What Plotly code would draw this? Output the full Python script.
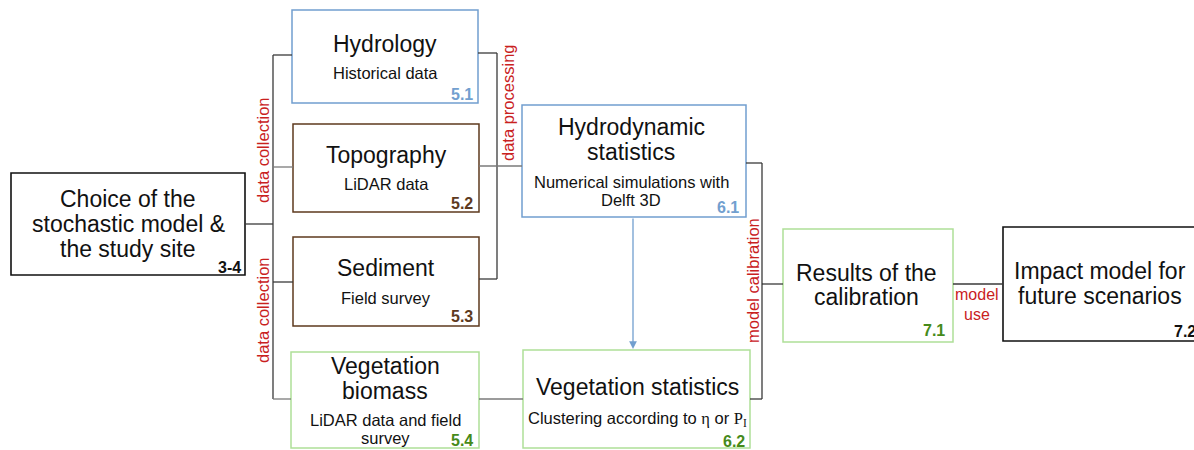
import plotly.graph_objects as go

# ---- content ----
box_ids = ["choice", "hydro", "topo", "sed", "vegb", "hyds", "vegs", "res", "imp"]
box_titles = [
    ["Choice of the", "stochastic model &", "the study site"],
    ["Hydrology"],
    ["Topography"],
    ["Sediment"],
    ["Vegetation", "biomass"],
    ["Hydrodynamic", "statistics"],
    ["Vegetation statistics"],
    ["Results of the", "calibration"],
    ["Impact model for", "future scenarios"],
]
box_subtitles = [
    [],
    ["Historical data"],
    ["LiDAR data"],
    ["Field survey"],
    ["LiDAR data and field", "survey"],
    ["Numerical simulations with", "Delft 3D"],
    ["Clustering according to <span style=\"font-family:'Liberation Serif'\">η</span> or <span style=\"font-family:'Liberation Serif'\">P<sub>I</sub></span>"],
    [],
    [],
]
box_numbers = ["3-4", "5.1", "5.2", "5.3", "5.4", "6.1", "6.2", "7.1", "7.2"]
link_labels = ["data collection", "data collection", "data processing", "model calibration"]
use_label = ["model", "use"]

# ---- layout / styles ----
BLACK = "#111111"
BLUE = "#729fcf"
BROWN = "#5e3a1e"
GREEN_B = "#afdf98"
GREEN_T = "#468a1a"
RED = "#c9211e"
LINE = "#3a3a3a"
GREYL = "#7a7a7a"
FONT = "Liberation Sans, Arial, sans-serif"

geom = {  # x0, y0, x1, y1
    "choice": (11, 173, 245, 275),
    "hydro": (292, 10, 478, 103),
    "topo": (293, 124, 479, 212),
    "sed": (293, 237, 479, 326),
    "vegb": (291, 352, 479, 448),
    "hyds": (522, 105, 746, 217),
    "vegs": (523, 350, 750, 448),
    "res": (783, 229, 953, 342),
    "imp": (1003, 227, 1210, 341),
}
border = {"choice": BLACK, "hydro": BLUE, "topo": BROWN, "sed": BROWN, "vegb": GREEN_B,
          "hyds": BLUE, "vegs": GREEN_B, "res": GREEN_B, "imp": BLACK}
numcol = {"choice": BLACK, "hydro": BLUE, "topo": BROWN, "sed": BROWN, "vegb": GREEN_T,
          "hyds": BLUE, "vegs": GREEN_T, "res": GREEN_T, "imp": BLACK}
title_y = {"choice": [199, 224, 249], "hydro": [44], "topo": [155], "sed": [268],
           "vegb": [366, 391], "hyds": [127, 152], "vegs": [387], "res": [273, 297],
           "imp": [271, 296]}
sub_y = {"hydro": [73], "topo": [184], "sed": [298], "vegb": [420, 438],
         "hyds": [182, 200], "vegs": [419]}
cx = {"choice": 128, "hydro": 385, "topo": 386, "sed": 386, "vegb": 385, "hyds": 631,
      "vegs": 637, "res": 866, "imp": 1100}
# (x, y, anchor)
num_pos = {"choice": (243, 267, "right"), "hydro": (475, 94, "right"),
           "topo": (475, 203, "right"), "sed": (475, 316, "right"),
           "vegb": (475, 440, "right"), "hyds": (741, 207, "right"),
           "vegs": (747, 441, "right"), "res": (947, 330, "right"),
           "imp": (1172, 331, "left")}

fig = go.Figure()
fig.add_trace(go.Scatter(x=[0, 1194], y=[0, 450], mode="markers",
                         marker=dict(opacity=0), hoverinfo="skip", showlegend=False))

shapes = []
for b in box_ids:
    x0, y0, x1, y1 = geom[b]
    w = 1.6 if border[b] == BLACK else 1.5
    shapes.append(dict(type="rect", xref="x", yref="y", x0=x0, y0=y0, x1=x1, y1=y1,
                       line=dict(color=border[b], width=w), fillcolor="rgba(0,0,0,0)"))

segments = [  # (x0,y0,x1,y1,color)
    (245, 224, 273, 224, LINE),
    (273, 55, 273, 399, LINE),
    (273, 55, 292, 55, LINE),
    (273, 167, 293, 167, GREYL),
    (273, 282, 293, 282, LINE),
    (273, 399, 291, 399, GREYL),
    (478, 53, 497, 53, LINE),
    (497, 53, 497, 279, LINE),
    (479, 279, 497, 279, LINE),
    (479, 166, 522, 166, GREYL),
    (479, 399, 523, 399, GREYL),
    (746, 163, 762, 163, LINE),
    (762, 163, 762, 399, LINE),
    (750, 399, 762, 399, LINE),
    (762, 284, 783, 284, LINE),
    (953, 284, 1003, 284, LINE),
]
for x0, y0, x1, y1, c in segments:
    shapes.append(dict(type="line", xref="x", yref="y", x0=x0, y0=y0, x1=x1, y1=y1,
                       line=dict(color=c, width=1.3)))

ann = []
for i, b in enumerate(box_ids):
    for t, y in zip(box_titles[i], title_y[b]):
        ann.append(dict(x=cx[b], y=y, text=t, showarrow=False, xanchor="center",
                        yanchor="middle", font=dict(family=FONT, size=23, color="#111")))
    for t, y in zip(box_subtitles[i], sub_y.get(b, [])):
        ann.append(dict(x=cx[b], y=y, text=t, showarrow=False, xanchor="center",
                        yanchor="middle", font=dict(family=FONT, size=16.5, color="#111")))
    nx, ny, anc = num_pos[b]
    ann.append(dict(x=nx, y=ny, text="<b>%s</b>" % box_numbers[i], showarrow=False,
                    xanchor=anc, yanchor="middle",
                    font=dict(family=FONT, size=16, color=numcol[b])))

vert_pos = [(263, 150), (263, 310), (508, 103), (753, 281)]
for t, (x, y) in zip(link_labels, vert_pos):
    ann.append(dict(x=x, y=y, text=t, textangle=-90, showarrow=False, xanchor="center",
                    yanchor="middle", font=dict(family=FONT, size=16.5, color=RED)))
for t, y in zip(use_label, [294, 314]):
    ann.append(dict(x=977, y=y, text=t, showarrow=False, xanchor="center", yanchor="middle",
                    font=dict(family=FONT, size=16, color=RED)))

# arrow hydro stats -> vegetation stats
ann.append(dict(x=633, y=349, ax=633, ay=217, xref="x", yref="y", axref="x", ayref="y",
                text="", showarrow=True, arrowhead=2, arrowsize=1.2, arrowwidth=1.3,
                arrowcolor=BLUE, standoff=0))

fig.update_layout(
    width=1194, height=450, margin=dict(l=0, r=0, t=0, b=0),
    paper_bgcolor="white", plot_bgcolor="white",
    xaxis=dict(range=[0, 1194], visible=False, fixedrange=True),
    yaxis=dict(range=[450, 0], visible=False, fixedrange=True),
    shapes=shapes, annotations=ann, showlegend=False,
)
fig.write_html("out.html", config={"displayModeBar": False},
               post_script="document.body.style.margin='0px';")
